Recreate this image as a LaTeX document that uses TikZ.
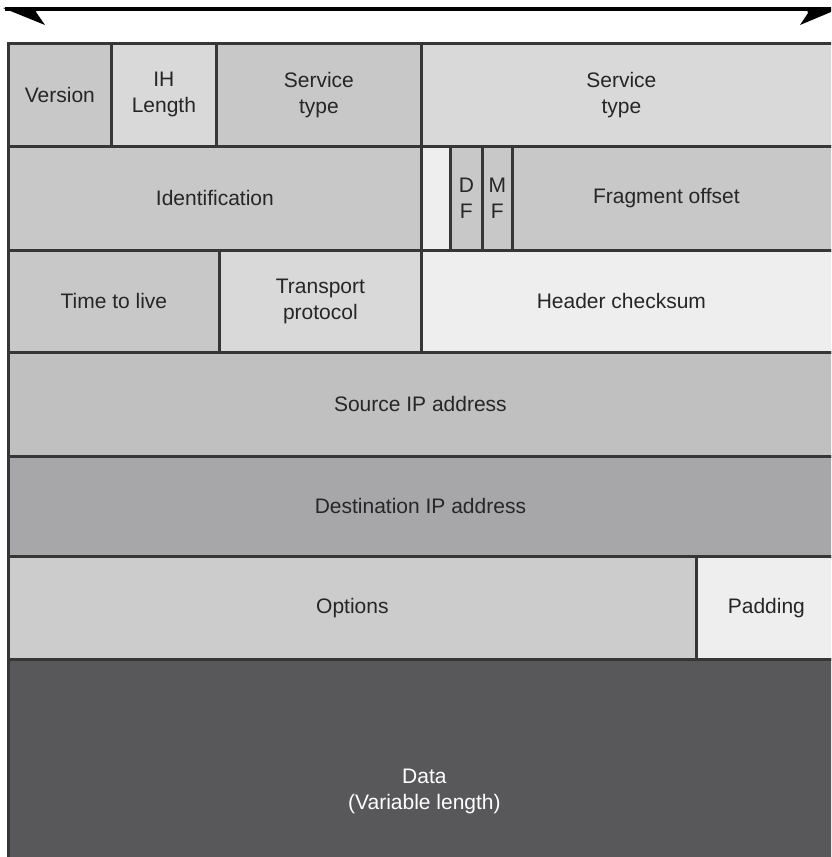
\documentclass[tikz,border=0pt]{standalone}
\usepackage{fontspec}
\setmainfont{Liberation Sans}
\begin{document}
\begin{tikzpicture}[x=1pt,y=-1pt,
  cell/.style={rectangle, draw=edge, line width=2.8pt, anchor=north west,
    inner sep=0pt, align=center, text=ink,
    font=\fontsize{21}{26}\selectfont},
  shifted/.style 2 args={label={[text=ink, align=center,
    font=\fontsize{21}{26}\selectfont, xshift=#2]center:#1}}]
\definecolor{edge}{HTML}{363636}
\definecolor{ink}{HTML}{262626}
\definecolor{gA}{HTML}{C8C8C8}
\definecolor{gB}{HTML}{D9D9D9}
\definecolor{gC}{HTML}{EEEEEE}
\definecolor{gD}{HTML}{C0C0C1}
\definecolor{gE}{HTML}{A7A7A9}
\definecolor{gF}{HTML}{CCCCCC}
\definecolor{gData}{HTML}{58585A}
\useasboundingbox (0,0) rectangle (831,857);
\clip (0,0) rectangle (831,857);
\fill[white] (0,0) rectangle (831,857);

% width arrow above the header
\coordinate (al) at (5,9);
\coordinate (ar) at (831,9);
\draw[line width=3.8pt, black] (al) -- (ar);
\fill[black] (3,8) -- (38,7) -- (36,12) -- (45,25) -- cycle;
\fill[black] (831,7) -- (831,12) -- (800,25) -- (808,13) -- (806,7) -- cycle;

% row 1
\node[cell, fill=gA, minimum width=103pt, minimum height=103pt] (ver) at (7,42) {Version};
\node[cell, fill=gB, minimum width=105pt, minimum height=103pt] (ihl) at (110,42) {IH\\Length};
\node[cell, fill=gA, minimum width=205pt, minimum height=103pt] (tos) at (215,42) {Service\\type};
\node[cell, fill=gB, minimum width=420pt, minimum height=103pt, shifted={Service\\type}{-10pt}] (tos2) at (420,42) {};
% row 2
\node[cell, fill=gA, minimum width=413pt, minimum height=104pt] (ident) at (7,145) {Identification};
\node[cell, fill=gC, minimum width=29pt, minimum height=104pt] (rsv) at (420,145) {};
\node[cell, fill=gA, minimum width=32pt, minimum height=104pt] (df) at (449,145) {D\\F};
\node[cell, fill=gA, minimum width=30pt, minimum height=104pt] (mf) at (481,145) {M\\F};
\node[cell, fill=gA, minimum width=330pt, minimum height=104pt, shifted={Fragment offset}{-11pt}] (frag) at (511,145) {};
% row 3
\node[cell, fill=gA, minimum width=211pt, minimum height=102pt] (ttl) at (7,249) {Time to live};
\node[cell, fill=gB, minimum width=202pt, minimum height=102pt] (proto) at (218,249) {Transport\\protocol};
\node[cell, fill=gC, minimum width=420pt, minimum height=102pt, shifted={Header checksum}{-10pt}] (csum) at (420,249) {};
% rows 4 and 5
\node[cell, fill=gD, minimum width=840pt, minimum height=104pt, shifted={Source IP address}{-8pt}] (src) at (7,351) {};
\node[cell, fill=gE, minimum width=840pt, minimum height=100pt, shifted={Destination IP address}{-8pt}] (dst) at (7,455) {};
% row 6
\node[cell, fill=gF, minimum width=688pt, minimum height=103pt] (opt) at (7,555) {Options};
\node[cell, fill=gC, minimum width=140pt, minimum height=103pt] (pad) at (695,555) {Padding};
% payload
\node[cell, fill=gData, text=white, minimum width=840pt, minimum height=264pt,
  label={[text=white, align=center, font=\fontsize{21}{26}\selectfont, xshift=-4pt]center:Data\\(Variable length)}] (data) at (7,658) {};
\end{tikzpicture}
\end{document}
